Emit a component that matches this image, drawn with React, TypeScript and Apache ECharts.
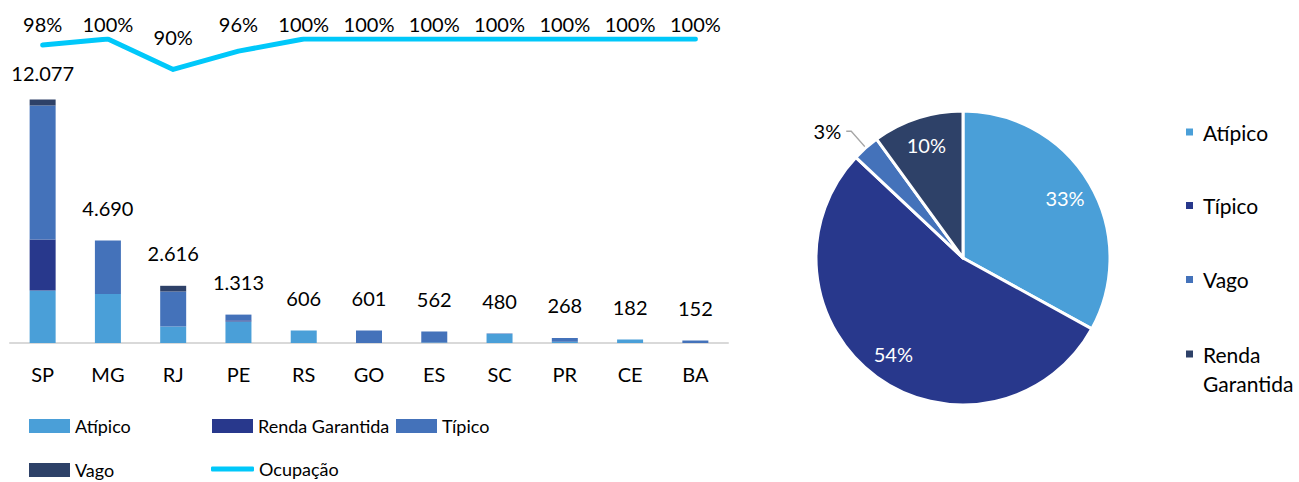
import React, { useEffect, useRef } from "react";
import * as echarts from "echarts";

// ---- data ----
const categories = ["SP", "MG", "RJ", "PE", "RS", "GO", "ES", "SC", "PR", "CE", "BA"];
const atipico = [2590, 2418, 814, 1061, 617, 0, 25, 444, 60, 173, 0];
const rendaGarantida = [2516, 0, 0, 55, 0, 0, 0, 0, 0, 0, 0];
const tipico = [6612, 2640, 1727, 285, 0, 617, 543, 25, 187, 0, 123];
const vago = [296, 0, 281, 0, 0, 0, 0, 0, 0, 0, 0];
const totalLabels = [12077, 4690, 2616, 1313, 606, 601, 562, 480, 268, 182, 152];
const ocupacao = [98, 100, 90, 96, 100, 100, 100, 100, 100, 100, 100];

const pieNames = ["Atípico", "Típico", "Vago", "Renda Garantida"];
const pieValues = [33, 54, 3, 10];

// ---- styling ----
const FONT = "Lato";
const C_ATIPICO = "#4A9FD8";
const C_RENDA = "#28388C";
const C_TIPICO = "#4472BA";
const C_VAGO = "#2E4168";
const C_OCUP = "#00C8FA";
const pieColors = [C_ATIPICO, C_RENDA, C_TIPICO, C_VAGO];

// label offsets (style only)
const occLabelGap = [11, 5, 22, 17, 5, 5, 5, 5, 5, 5, 5];
const totalLabelGap = [16, 22, 22, 22, 22, 22, 22, 22, 22, 22, 22];

function fmtThousands(n: number): string {
  const s = String(Math.round(n));
  return s.replace(/\B(?=(\d{3})+(?!\d))/g, ".");
}

const PIE_PREFIX = "pie:";

export default function App() {
  const ref = useRef<HTMLDivElement>(null);

  useEffect(() => {
    if (!ref.current) return;
    const chart = echarts.init(ref.current, null, { renderer: "svg" });

    const stackSums = categories.map(
      (_, i) => atipico[i] + rendaGarantida[i] + tipico[i] + vago[i]
    );

    const barBase = {
      type: "bar",
      stack: "total",
      barWidth: 26,
      xAxisIndex: 0,
      yAxisIndex: 0,
      silent: true,
    };

    const bottomLegend = (name: string, left: number, top: number, isLine = false) => ({
      data: [name],
      left,
      top,
      padding: 0,
      itemWidth: isLine ? 43 : 41,
      itemHeight: isLine ? 5 : 14,
      icon: isLine ? "roundRect" : "rect",
      selectedMode: false,
      textStyle: { fontFamily: FONT, fontSize: 18, color: "#000" },
    });

    const pieLegend = (i: number, iconCenter: number) => {
      const isRenda = pieNames[i] === "Renda Garantida";
      return {
        data: [PIE_PREFIX + pieNames[i]],
        left: 1184,
        top: isRenda ? iconCenter - 43.5 : iconCenter - 11,
        padding: 0,
        itemWidth: 9,
        itemHeight: 9,
        icon: "rect",
        selectedMode: false,
        formatter: (n: string) => {
          const t = n.replace(PIE_PREFIX, "");
          return isRenda ? "\n" + t.replace(" ", "\n") : t;
        },
        textStyle: {
          fontFamily: FONT,
          fontSize: 21,
          color: "#000",
          lineHeight: isRenda ? 29 : undefined,
          padding: [0, 0, 0, 4],
        },
      };
    };

    const option: any = {
      animation: false,
      textStyle: { fontFamily: FONT },
      grid: { left: 10, right: 571, top: 39, bottom: 139, containLabel: false },
      xAxis: {
        type: "category",
        data: categories,
        axisTick: { show: false },
        axisLine: { lineStyle: { color: "#D9D9D9", width: 2 } },
        axisLabel: { color: "#000", fontSize: 20, fontFamily: FONT, margin: 21 },
      },
      yAxis: [
        { type: "value", min: 0, max: 15000, show: false, splitLine: { show: false } },
        { type: "value", min: 0, max: 100, show: false, splitLine: { show: false } },
      ],
      legend: [
        bottomLegend("Atípico", 29, 417),
        bottomLegend("Renda Garantida", 212, 417),
        bottomLegend("Típico", 396, 417),
        bottomLegend("Vago", 29, 461),
        bottomLegend("Ocupação", 211, 460, true),
        pieLegend(0, 132.5),
        pieLegend(1, 206),
        pieLegend(2, 280),
        pieLegend(3, 354),
      ],
      series: [
        { ...barBase, name: "Atípico", data: atipico, itemStyle: { color: C_ATIPICO } },
        { ...barBase, name: "Renda Garantida", data: rendaGarantida, itemStyle: { color: C_RENDA } },
        { ...barBase, name: "Típico", data: tipico, itemStyle: { color: C_TIPICO } },
        { ...barBase, name: "Vago", data: vago, itemStyle: { color: C_VAGO } },
        {
          type: "scatter",
          name: "totais",
          silent: true,
          symbolSize: 1,
          itemStyle: { color: "rgba(0,0,0,0)", opacity: 1 },
          data: stackSums.map((s, i) => ({
            value: s,
            label: { distance: totalLabelGap[i] },
          })),
          label: {
            show: true,
            position: "top",
            color: "#000",
            opacity: 1,
            fontSize: 20,
            fontFamily: FONT,
            formatter: (p: any) => fmtThousands(totalLabels[p.dataIndex]),
          },
          z: 5,
        },
        {
          type: "line",
          name: "Ocupação",
          yAxisIndex: 1,
          silent: true,
          symbol: "circle",
          symbolSize: 1,
          showSymbol: true,
          itemStyle: { color: C_OCUP },
          lineStyle: { color: C_OCUP, width: 5, cap: "round", join: "round" },
          data: ocupacao.map((v, i) => ({ value: v, label: { distance: occLabelGap[i] } })),
          label: {
            show: true,
            position: "top",
            color: "#000",
            fontSize: 20,
            fontFamily: FONT,
            formatter: (p: any) => p.value + "%",
          },
          z: 6,
        },
        {
          type: "pie",
          name: "pie",
          center: [963, 258],
          radius: [0, 147],
          startAngle: 90,
          clockwise: true,
          silent: true,
          itemStyle: { borderColor: "#fff", borderWidth: 3 },
          data: pieNames.map((n, i) => ({
            name: PIE_PREFIX + n,
            value: pieValues[i],
            itemStyle: { color: pieColors[i] },
            label: { show: pieValues[i] < 5 },
            labelLine: { show: pieValues[i] < 5 },
          })),
          label: {
            position: "outside",
            color: "#000",
            fontSize: 20,
            fontFamily: FONT,
            formatter: (p: any) => p.value + "%",
          },
          labelLine: { length: 22, length2: 5, lineStyle: { color: "#A6A6A6", width: 1.3 } },
        },
        {
          type: "pie",
          name: "pieLabels",
          center: [963, 258],
          radius: [84, 147],
          startAngle: 90,
          clockwise: true,
          silent: true,
          itemStyle: { color: "rgba(0,0,0,0)" },
          data: pieNames.map((n, i) => ({
            name: PIE_PREFIX + n,
            value: pieValues[i],
            label: { show: pieValues[i] >= 5 },
          })),
          label: {
            position: "inside",
            color: "#fff",
            fontSize: 20,
            fontFamily: FONT,
            formatter: (p: any) => p.value + "%",
          },
          labelLine: { show: false },
          z: 3,
        },
      ],
    };

    chart.setOption(option);
    return () => chart.dispose();
  }, []);

  return (
    <div
      ref={ref}
      style={{ position: "fixed", left: 0, top: 0, width: 1299, height: 482, background: "#fff" }}
    />
  );
}
